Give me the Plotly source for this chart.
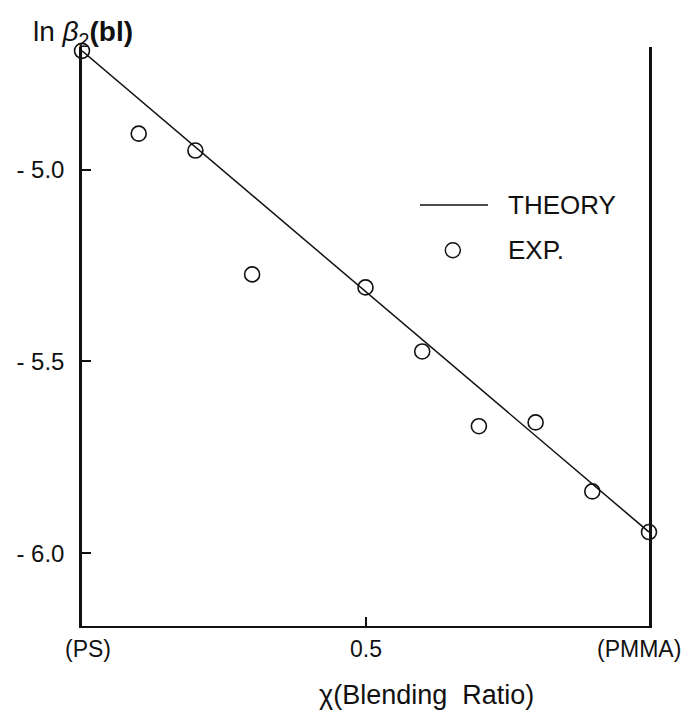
import plotly.graph_objects as go

# Blending ratio of PMMA in PS/PMMA blends
blend_ratio = [0.0, 0.1, 0.2, 0.3, 0.5, 0.6, 0.7, 0.8, 0.9, 1.0]
ln_beta_exp = [-4.69, -4.906, -4.95, -5.273, -5.307, -5.474, -5.669, -5.659, -5.839, -5.945]

# Theoretical prediction (straight line between the pure polymers)
theory_x = [0.0, 0.5, 1.0]
theory_y = [-4.69, -5.318, -5.945]

y_ticks = [-5.0, -5.5, -6.0]
y_ticktext = ["- 5.0", "- 5.5", "- 6.0"]
x_ticks = [0.0, 0.5, 1.0]
x_ticktext = ["(PS)", "0.5", "(PMMA)"]

FONT = "Liberation Sans, Arial, sans-serif"
INK = "#111111"

fig = go.Figure()
fig.add_trace(go.Scatter(
    x=theory_x, y=theory_y, mode="lines",
    line=dict(color=INK, width=1.5), name="THEORY", showlegend=False,
))
fig.add_trace(go.Scatter(
    x=blend_ratio, y=ln_beta_exp, mode="markers",
    marker=dict(symbol="circle-open", size=15, color=INK, line=dict(width=1.6, color=INK)),
    name="EXP.", showlegend=False, cliponaxis=False,
))

fig.update_layout(
    width=683, height=713,
    margin=dict(l=82, r=34, t=47, b=87),
    paper_bgcolor="white", plot_bgcolor="white",
    font=dict(family=FONT, color=INK),
    showlegend=False,
)

fig.update_xaxes(
    range=[0, 1], showgrid=False, zeroline=False,
    showline=True, linecolor=INK, linewidth=2, mirror=False,
    tickvals=x_ticks, showticklabels=False,
    ticks="inside", ticklen=9, tickwidth=2, tickcolor=INK,
)
fig.update_yaxes(
    range=[-6.19, -4.68], showgrid=False, zeroline=False,
    showline=True, linecolor=INK, linewidth=2.5, mirror=True,
    tickvals=y_ticks, ticktext=y_ticktext,
    ticks="inside", ticklen=9, tickwidth=2, tickcolor=INK,
    tickfont=dict(size=24, family=FONT, color=INK),
    ticklabelstandoff=10,
)

# x tick labels, nudged so the end labels stay inside the page
x_label_nudge = {"(PS)": 6, "0.5": 0, "(PMMA)": -10}
for xv, txt in zip(x_ticks, x_ticktext):
    fig.add_annotation(
        x=xv, xref="x", y=0, yref="paper", yanchor="middle", xanchor="center",
        xshift=x_label_nudge[txt], yshift=-23, showarrow=False, text=txt,
        font=dict(size=23, family=FONT, color=INK),
    )

# Axis titles
fig.add_annotation(
    xref="paper", yref="paper", x=-0.09, y=1.0, xanchor="left", yanchor="bottom",
    yshift=-6, showarrow=False,
    text="ln <i>β</i><sub>2</sub><b>(bl)</b>",
    font=dict(size=28, family=FONT, color=INK),
)
fig.add_annotation(
    xref="paper", yref="paper", x=0.607, y=0, xanchor="center", yanchor="middle",
    yshift=-69, showarrow=False,
    text="χ(Blending  Ratio)",
    font=dict(size=27, family=FONT, color=INK),
)

# Legend key
fig.add_shape(type="line", xref="paper", yref="paper",
              x0=0.596, x1=0.716, y0=0.727, y1=0.727,
              line=dict(color=INK, width=1.6))
fig.add_shape(type="circle", xref="paper", yref="paper",
              xsizemode="pixel", ysizemode="pixel",
              xanchor=0.654, yanchor=0.649, x0=-7.5, x1=7.5, y0=-7.5, y1=7.5,
              line=dict(color=INK, width=1.5))
fig.add_annotation(xref="paper", yref="paper", x=0.748, y=0.727,
                   xanchor="left", yanchor="middle", showarrow=False,
                   text="THEORY", font=dict(size=26, family=FONT, color=INK))
fig.add_annotation(xref="paper", yref="paper", x=0.748, y=0.649,
                   xanchor="left", yanchor="middle", showarrow=False,
                   text="EXP.", font=dict(size=26, family=FONT, color=INK))

fig.write_html("out.html")
